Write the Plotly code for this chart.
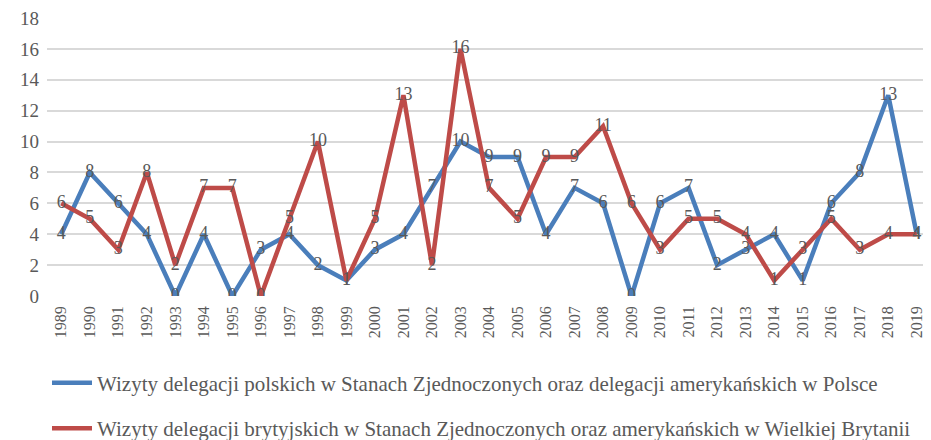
import plotly.graph_objects as go

years = [str(y) for y in range(1989, 2020)]
polish = [4, 8, 6, 4, 0, 4, 0, 3, 4, 2, 1, 3, 4, 7, 10, 9, 9, 4, 7, 6, 0, 6, 7, 2, 3, 4, 1, 6, 8, 13, 4]
british = [6, 5, 3, 8, 2, 7, 7, 0, 5, 10, 1, 5, 13, 2, 16, 7, 5, 9, 9, 11, 6, 3, 5, 5, 4, 1, 3, 5, 3, 4, 4]
y_ticks = list(range(0, 19, 2))

name_pl = "Wizyty delegacji polskich w Stanach Zjednoczonych oraz delegacji amerykańskich w Polsce"
name_gb = "Wizyty delegacji brytyjskich w Stanach Zjednoczonych oraz amerykańskich w Wielkiej Brytanii"

FONT = "'Liberation Serif', 'Times New Roman', serif"
GRAY = "#595959"

fig = go.Figure()
fig.add_trace(go.Scatter(
    x=years, y=polish, name=name_pl, mode="lines+text",
    line=dict(color="#4A7EBB", width=4.5),
    text=[str(v) for v in polish], textposition="middle center",
    textfont=dict(family=FONT, size=18, color=GRAY),
    legendgroup="a",
))
fig.add_trace(go.Scatter(
    x=years, y=british, name=name_gb, mode="lines+text",
    line=dict(color="#BE4B48", width=4.5),
    text=[str(v) for v in british], textposition="middle center",
    textfont=dict(family=FONT, size=18, color=GRAY),
    legendgroup="b",
))

fig.update_layout(
    width=923, height=432,
    margin=dict(l=39, r=0, t=10, b=144, autoexpand=False),
    paper_bgcolor="white", plot_bgcolor="white",
    font=dict(family=FONT, color=GRAY),
    showlegend=True,
    legend=dict(
        orientation="v", x=0.0, xanchor="left", y=-0.24, yanchor="top",
        font=dict(family=FONT, size=21, color=GRAY),
        tracegroupgap=15, traceorder="grouped", itemwidth=40,
        bgcolor="rgba(0,0,0,0)",
    ),
    xaxis=dict(
        type="category", tickangle=-90, showgrid=False, showline=False,
        ticks="", tickfont=dict(family=FONT, size=16, color=GRAY),
        range=[-0.5, 30.5], automargin=False, ticklabelstandoff=6,
        ticklabeloverflow="allow",
    ),
    yaxis=dict(
        range=[0, 18], tickvals=y_ticks, showgrid=True, gridcolor="#D9D9D9",
        gridwidth=1.5, zeroline=False, showline=False, ticks="",
        tickfont=dict(family=FONT, size=19, color=GRAY),
        ticklabelstandoff=7, automargin=False, ticklabeloverflow="allow",
    ),
)

fig.write_html("out.html")
